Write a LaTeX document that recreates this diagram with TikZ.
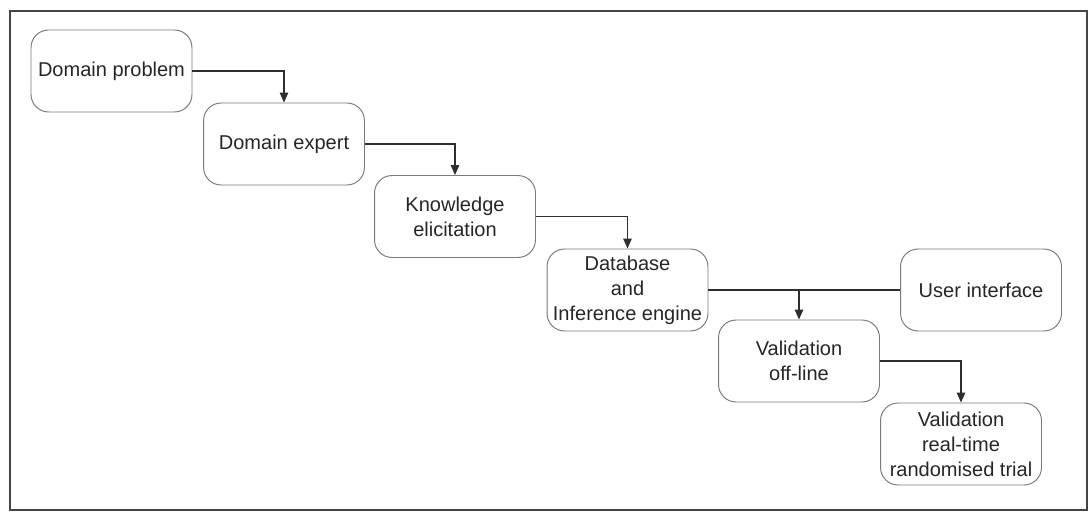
\documentclass[tikz,border=0pt]{standalone}
\usepackage{fontspec}
\setmainfont{Liberation Sans}
\usetikzlibrary{arrows.meta}
\definecolor{boxline}{HTML}{7A7A7A}
\definecolor{linkline}{HTML}{2E2E2E}
\definecolor{frameline}{HTML}{454545}
\begin{document}
\begin{tikzpicture}[x=0.02cm,y=-0.02cm,
  stagebox/.style={draw=boxline, line width=0.55pt, rounded corners=10pt,
    minimum width=3.22cm, minimum height=1.64cm, align=center, inner sep=1pt,
    font=\fontsize{11.4}{14.2}\selectfont, text=black!85},
  link/.style={draw=linkline, line width=0.8pt},
  flow/.style={link, -{Triangle[length=2mm,width=1.7mm]}}]
\useasboundingbox (0,0) rectangle (1092,513);
\draw[frameline, line width=1.1pt] (10,11) rectangle (1087,510);

\node[stagebox] (prob) at (111.5,71) {Domain problem};
\node[stagebox] (expert) at (284,144) {Domain expert};
\node[stagebox] (know) at (455,216.5) {Knowledge\\elicitation};
\node[stagebox] (db) at (627.5,290) {Database\\and\\Inference engine};
\node[stagebox] (ui) at (981,290) {User interface};
\node[stagebox] (off) at (799,361) {Validation\\off-line};
\node[stagebox] (rt) at (961,444) {Validation\\real-time\\randomised trial};

\draw[flow] (prob.east) -| (expert.north);
\draw[flow] (expert.east) -| (know.north);
\draw[flow] (know.east) -| (db.north);
\draw[link] (db.east) -- (ui.west);
\coordinate (tap) at (off.north |- db.east);
\draw[flow] (tap) -- (off.north);
\draw[flow] (off.east) -| (rt.north);
\end{tikzpicture}
\end{document}
